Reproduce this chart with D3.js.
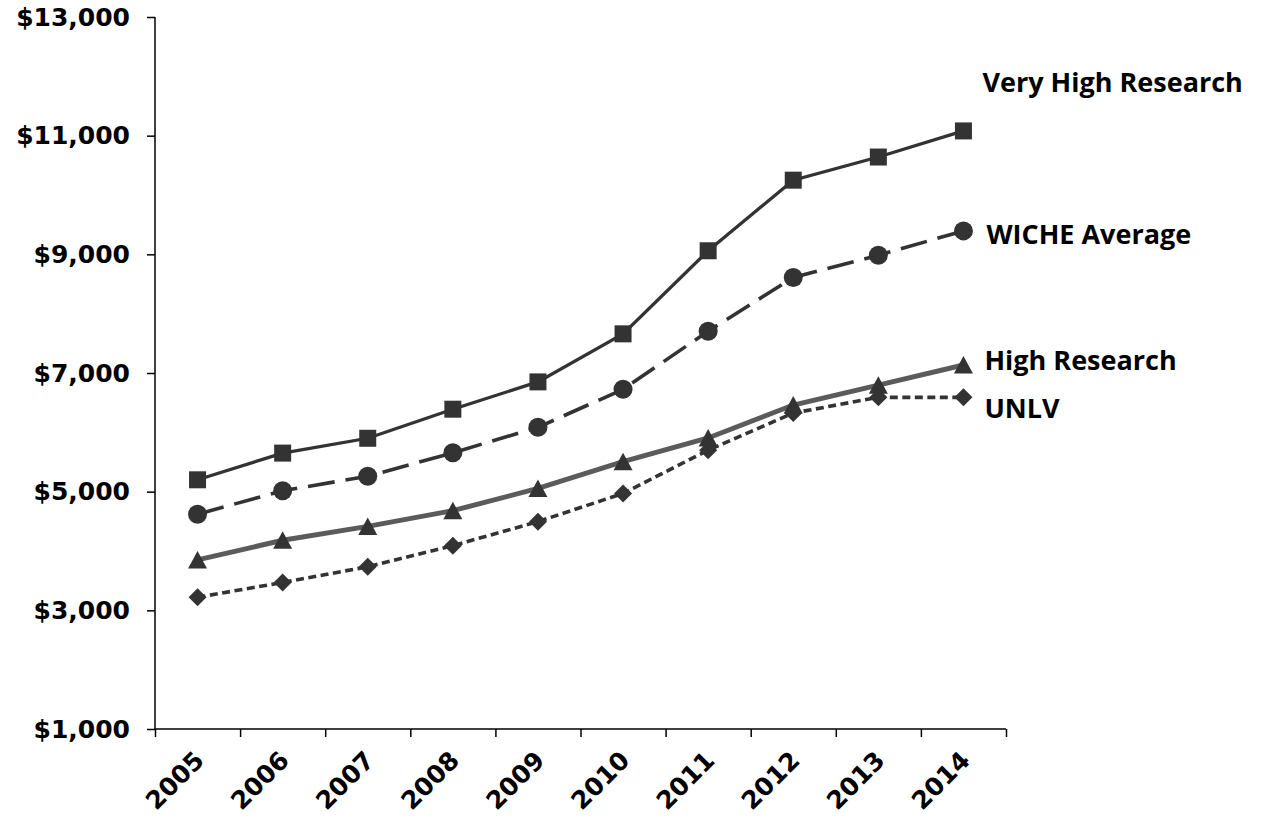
<!DOCTYPE html>
<html>
<head>
<meta charset="utf-8">
<script src="https://cdn.jsdelivr.net/npm/d3@7"></script>
<style>
  body { margin: 0; background: #fff; }
  svg { display: block; }
</style>
</head>
<body>
<svg id="chart" width="1263" height="818"></svg>
<script>
// years along the bottom
const years = ["2005", "2006", "2007", "2008", "2009", "2010", "2011", "2012", "2013", "2014"];

// values, dollars
const veryHigh = [5200, 5650, 5900, 6390, 6850, 7660, 9060, 10250, 10640, 11080];
const wiche    = [4620, 5015, 5260, 5655, 6085, 6725, 7705, 8610, 8985, 9395];
const highRes  = [3850, 4180, 4415, 4680, 5055, 5505, 5905, 6460, 6795, 7135];
const unlv     = [3220, 3470, 3735, 4090, 4495, 4970, 5700, 6325, 6590, 6590];

const seriesNames = ["Very High Research", "WICHE Average", "High Research", "UNLV"];
const yTicks = [1000, 3000, 5000, 7000, 9000, 11000, 13000];

const svg = d3.select("#chart");

// plot area
const plotLeft = 155, plotRight = 1006, plotTop = 17, plotBottom = 729;

const x = d3.scaleBand().domain(years).range([plotLeft, plotRight]);
const y = d3.scaleLinear().domain([1000, 13000]).range([plotBottom, plotTop]);

// style for each line (not data)
const styles = [
  { color: "#333", width: 3.3, dash: null,   symbol: "square" },
  { color: "#333", width: 3.6, dash: "27,11", symbol: "circle" },
  { color: "#5b5b5b", width: 5, dash: null,  symbol: "triangle" },
  { color: "#333", width: 3.6, dash: "8,4.5", symbol: "diamond" }
];

const allSeries = [veryHigh, wiche, highRes, unlv].map((vals, i) => ({
  name: seriesNames[i],
  values: vals.map((v, j) => ({ year: years[j], value: v })),
  style: styles[i]
}));

// y axis
const yAxis = svg.append("g")
  .attr("transform", `translate(${plotLeft},0)`)
  .call(d3.axisLeft(y).tickValues(yTicks).tickSize(8).tickPadding(17)
    .tickFormat(d => "$" + d3.format(",")(d)));
yAxis.select(".domain").attr("stroke", "#000").attr("stroke-width", 1.5).attr("d", `M0,${plotTop}V${plotBottom}`);
yAxis.selectAll(".tick line").attr("stroke", "#000").attr("stroke-width", 1.5);
yAxis.selectAll("text")
  .attr("fill", "#000")
  .style("font-family", "DejaVu Sans")
  .style("font-weight", "bold")
  .style("font-size", "25px");

// x axis: ticks sit between the years
const xEdges = d3.scaleLinear().domain([0, years.length]).range([plotLeft, plotRight]);
const xAxis = svg.append("g")
  .attr("transform", `translate(0,${plotBottom})`)
  .call(d3.axisBottom(xEdges).ticks(years.length).tickSize(8).tickFormat(""));
xAxis.select(".domain").attr("stroke", "#000").attr("stroke-width", 1.5).attr("d", `M${plotLeft},0H${plotRight}`);
xAxis.selectAll(".tick line").attr("stroke", "#000").attr("stroke-width", 1.5);

// year labels, tilted
svg.append("g").selectAll("text")
  .data(years)
  .enter()
  .append("text")
  .attr("transform", d => `translate(${x(d) + x.bandwidth() / 2 + 8},${plotBottom + 33}) rotate(-45)`)
  .attr("text-anchor", "end")
  .style("font-family", "DejaVu Sans")
  .style("font-weight", "bold")
  .style("font-size", "25px")
  .text(d => d);

const line = d3.line()
  .x(d => x(d.year) + x.bandwidth() / 2)
  .y(d => y(d.value));

// marker shapes centred on the point
const markerPath = (type) => {
  if (type === "square") return "M-8.5,-8.5H8.5V8.5H-8.5Z";
  if (type === "triangle") return "M0,-9L9.5,8.5H-9.5Z";
  if (type === "diamond") return "M0,-9L9,0L0,9L-9,0Z";
  return null;
};

const groups = svg.selectAll(".series")
  .data(allSeries)
  .enter()
  .append("g")
  .attr("class", "series");

groups.append("path")
  .attr("d", d => line(d.values))
  .attr("fill", "none")
  .attr("stroke", d => d.style.color)
  .attr("stroke-width", d => d.style.width)
  .attr("stroke-dasharray", d => d.style.dash);

groups.each(function (s) {
  const g = d3.select(this);
  const pts = g.selectAll(".pt")
    .data(s.values)
    .enter();
  if (s.style.symbol === "circle") {
    pts.append("circle")
      .attr("cx", d => x(d.year) + x.bandwidth() / 2)
      .attr("cy", d => y(d.value))
      .attr("r", 9.5)
      .attr("fill", "#333");
  } else {
    pts.append("path")
      .attr("transform", d => `translate(${x(d.year) + x.bandwidth() / 2},${y(d.value)})`)
      .attr("d", markerPath(s.style.symbol))
      .attr("fill", "#333");
  }
});

// labels at the right end of each line
const labelPos = [
  { dx: 19, y: 92 },
  { dx: 23, y: 244 },
  { dx: 21, y: 370 },
  { dx: 21, y: 418 }
];
svg.append("g").selectAll("text")
  .data(seriesNames)
  .enter()
  .append("text")
  .attr("x", (d, i) => x(years[years.length - 1]) + x.bandwidth() / 2 + labelPos[i].dx)
  .attr("y", (d, i) => labelPos[i].y)
  .style("font-family", "Open Sans")
  .style("font-weight", "bold")
  .style("font-size", "27px")
  .attr("fill", "#000")
  .text(d => d);
</script>
</body>
</html>
